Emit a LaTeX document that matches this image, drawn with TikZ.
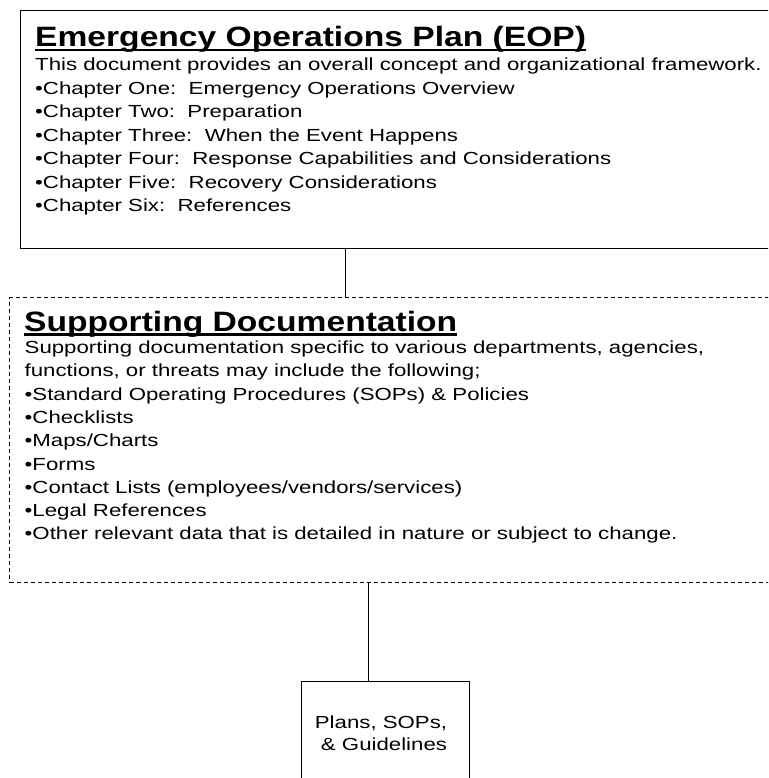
\documentclass[tikz,border=0pt]{standalone}
\usepackage{fontspec}
\setmainfont{Liberation Sans}
\newfontfamily\bodyf[FakeStretch=1.27]{Liberation Sans}
\newfontfamily\titlef[FakeStretch=1.2]{Liberation Sans Bold}
\begin{document}
\begin{tikzpicture}[x=1pt,y=-1pt,
  boxline/.style={draw=black,line width=1.3pt,inner sep=0pt,anchor=north west},
  dashline/.style={draw=black,line width=1pt,dash pattern=on 4pt off 3pt,inner sep=0pt,anchor=north west},
  title/.style={anchor=base west,inner sep=0pt,font=\titlef\fontsize{28}{28}\selectfont},
  body/.style={anchor=base west,inner sep=0pt,font=\bodyf\fontsize{17.5}{17.5}\selectfont},
  small/.style={anchor=base,inner sep=0pt,font=\bodyf\fontsize{17.5}{17.5}\selectfont},
  uline/.style={draw=black,line width=2.6pt},
  conn/.style={draw=black,line width=1pt}]
\useasboundingbox (0,0) rectangle (768,778);
\clip (0,0) rectangle (768,778);
\fill[white] (0,0) rectangle (768,778);
% boxes
\node[boxline,minimum width=780pt,minimum height=238pt] (eop) at (20,10) {};
\node[dashline,minimum width=790pt,minimum height=285pt] (sup) at (9,297) {};
\node[boxline,minimum width=168pt,minimum height=130pt] (plans) at (301,681) {};
% connectors
\draw[conn] (eop.south -| 345,0) -- (sup.north -| 345,0);
\draw[conn] (sup.south -| 368,0) -- (plans.north -| 368,0);
% EOP text
\node[title] (t1) at (35,46.5) {Emergency Operations Plan (EOP)};
\draw[uline] ([yshift=-3.5pt]t1.base west) -- ([yshift=-3.5pt]t1.base east);
\foreach \t [count=\i] in {
  This document provides an overall concept and organizational framework.,
  •Chapter One:\ \ Emergency Operations Overview,
  •Chapter Two:\ \ Preparation,
  •Chapter Three:\ \ When the Event Happens,
  •Chapter Four:\ \ Response Capabilities and Considerations,
  •Chapter Five:\ \ Recovery Considerations,
  •Chapter Six:\ \ References}
  \node[body] (e\i) at (35,{71+23.4*(\i-1)}) {\t};
% Supporting text
\node[title] (t2) at (24,331) {Supporting Documentation};
\draw[uline] ([yshift=-3.5pt]t2.base west) -- ([yshift=-3.5pt]t2.base east);
\foreach \t [count=\i] in {
  {Supporting documentation specific to various departments, agencies,},
  {functions, or threats may include the following;},
  •Standard Operating Procedures (SOPs) \& Policies,
  •Checklists,
  •Maps/Charts,
  •Forms,
  •Contact Lists (employees/vendors/services),
  •Legal References,
  •Other relevant data that is detailed in nature or subject to change.}
  \node[body] (s\i) at (24.5,{353.5+23.3*(\i-1)}) {\t};
% Plans text
\node[small] (p1) at (381,728.5) {Plans, SOPs,};
\node[small] (p2) at (384,750) {\& Guidelines};
\end{tikzpicture}
\end{document}
